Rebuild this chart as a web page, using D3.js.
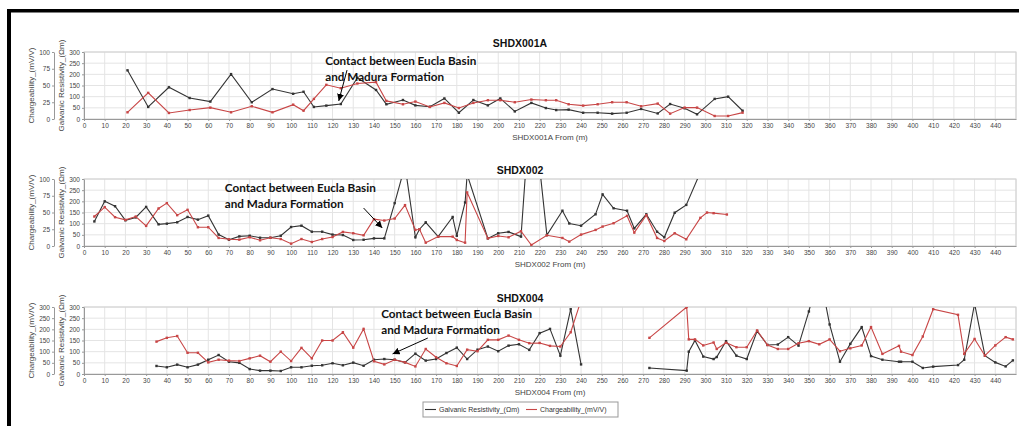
<!DOCTYPE html>
<html><head><meta charset="utf-8">
<script src="https://cdn.jsdelivr.net/npm/d3@7"></script>
<style>body{margin:0;background:#fff} svg{display:block}</style>
</head><body><svg id="c" width="1019" height="426"></svg>
<script>
// ---------------- DATA ----------------
const xTicks = d3.range(0, 441, 10);
const resTicks = [0, 50, 100, 150, 200, 250, 300];
const chgTicksA = [0, 25, 50, 75, 100];
const chgTicksB = [0, 50, 100, 150, 200, 250, 300];
const titles = ["SHDX001A", "SHDX002", "SHDX004"];
const xLabels = ["SHDX001A From (m)", "SHDX002 From (m)", "SHDX004 From (m)"];
const resName = "Galvanic Resistivity_(\u03A9m)";
const chgName = "Chargeability_(mV/V)";
const noteLines = ["Contact between Eucla Basin", "and Madura Formation"];

// SHDX001A
const p1Station = [21,31,41,51,61,71,81,91,101,106,111,117,124,132,141,146,154,160,167,174,181,188,195,201,208,216,223,228,234,241,248,255,262,269,277,283,290,296,304.5,311,318];
const p1Res = [218,54,142,94,78,201,75,134,113,122,54,60,67,185,130,66,85,61,55,92,28,85,61,92,34,72,49,40,42,28,28,24,28,45,25,67,48,21,90,100,37];
const p1Chg = [10,39,9,13.4,17,10,19,10,21.4,12.4,30,51,46,53,55,27,22,26,18,24,16.4,24,28,28,25,29,28,28,22,20,22,25,25,19,23,8,17,17,4.5,4.5,9.5];

// SHDX002
const p2Station = [5,10,15,20,25,30,36,40,45,50,55,60,65,70,75,80,85,90,95,100,105,110,115,120,125,130,135,140,145,150,155,160,162,165,171,178,180,184,185,195,200,205,211,216,223.5,231,234.3,240,247,250.4,255.7,262.2,265.7,271.5,276.7,280.2,285.2,290.8,297.6,300.8,304,310.4];
const p2Res = [110,200,178,115,128,175,97,100,106,130,118,136,51,28,43,46,37,37,46,85,91,64,64,51,49,27,28,34,34,192,360,39,75,106,42,130,46,195,320,34,57,63,42,700,49,158,101,91,142,231,169,158,79,142,64,39,149,184,330,null,null,null];
const p2Chg = [44,58,43,39,44,30,56,64,46,54,28,28,12,10,9.5,13,8.5,12.4,10.4,3.5,10.4,6,10.4,13.4,21,19,16,40,38,41,61,24,25,5,14,14,9,5,80,11.4,15,13,22,1.5,16,12,6.5,17,24,29,34,45,20,46,12,7.5,19,10,42,50,49,47];

// SHDX004
const p3Station = [35,40,45,50,55,60,65,70,75,80,85,90,95,100,105,110,115,120,125,130,135,140,145,150,155,160,165,170,175,180,185,190,195,200,205,210,215,220,225,230,235,240,273,291,292,295,299,304,305.5,310,315,320,325,330,335,340,345,350,355,360,365,370,375.5,380,385.5,393.5,394.5,400,405,410,422,425,430,435,440,445,448.5];
const p3Res = [36,30,42,30,42,64,85,55,50,22,15,15,13.5,30,30,37,39,48,39,51,37,64,67,64,52,91,60,67,94,118,67,109,123,102,127,133,108,183,202,82,290,43,27,15,100,150,78,67,76,147,82,67,192,130,132,165,127,280,460,222,55,135,210,80,64,55,55,55,27,33,40,64,315,82,52,34,61];
const p3Chg = [145,162,170,95,95,52,64,60,58,70,82,55,100,58,117,70,150,150,187,118,202,57,43,64,52,34,112,75,48,36,109,102,153,153,172,153,138,139,126,123,187,330,162,300,155,155,128,141,112,140,120,120,195,130,112,112,138,147,133,155,102,115,128,210,90,126,100,85,168,290,265,90,157,82,128,165,155];

// annotation anchors in data units: [arrow start x, start y(res), tip x, tip y(res), text x]
const noteStartX = [127, 135, 166];
const noteStartY = [219, 170, 161];
const noteTipX = [123, 144, 149];
const noteTipY = [81, 81, 90];
const noteTextX = [116.5, 68, 143.5];

// ---------------- LAYOUT ----------------
const W = 1019, H = 426;
const plotL = 84, plotR = 1016, plotH = 67;
const tops = [52, 179, 307];
const svg = d3.select("#c");
const BLACK = "#333333", RED = "#c84646";
const FONT = "'Liberation Sans', Arial, sans-serif";

// frame (black border top & left)
svg.append("rect").attr("x", 7).attr("y", 9).attr("width", W - 7).attr("height", 3.5).attr("fill", "#000");
svg.append("rect").attr("x", 7).attr("y", 9).attr("width", 4).attr("height", H - 9).attr("fill", "#000");

const x = d3.scaleLinear().domain([0, 450]).range([plotL, plotR]);

const panels = [
  {st: p1Station, res: p1Res, chg: p1Chg, chgMax: 100, chgTicks: chgTicksA},
  {st: p2Station, res: p2Res, chg: p2Chg, chgMax: 100, chgTicks: chgTicksA},
  {st: p3Station, res: p3Res, chg: p3Chg, chgMax: 300, chgTicks: chgTicksB}
];

const defs = svg.append("defs");
defs.append("marker").attr("id", "arr").attr("viewBox", "0 0 10 10")
  .attr("refX", 10).attr("refY", 5).attr("markerWidth", 7).attr("markerHeight", 7)
  .attr("markerUnits", "userSpaceOnUse").attr("orient", "auto")
  .append("path").attr("d", "M0,0 L10,5 L0,10 Z").attr("fill", "#000");

panels.forEach((p, i) => {
  const top = tops[i], bot = top + plotH;
  const yR = d3.scaleLinear().domain([0, 300]).range([bot, top]);
  const yC = d3.scaleLinear().domain([0, p.chgMax]).range([bot, top]);
  const g = svg.append("g");

  defs.append("clipPath").attr("id", "clip" + i).append("rect")
    .attr("x", plotL).attr("y", top).attr("width", plotR - plotL).attr("height", plotH);

  // grid
  g.append("g").selectAll("line").data(xTicks.slice(1).concat([450])).join("line")
    .attr("x1", d => x(d)).attr("x2", d => x(d)).attr("y1", top).attr("y2", bot)
    .attr("stroke", "#e4e4e4").attr("stroke-width", 1);
  g.append("g").selectAll("line").data(resTicks.slice(1)).join("line")
    .attr("x1", plotL).attr("x2", plotR).attr("y1", d => yR(d)).attr("y2", d => yR(d))
    .attr("stroke", "#e4e4e4").attr("stroke-width", 1);
  g.append("rect").attr("x", plotL).attr("y", top).attr("width", plotR - plotL).attr("height", plotH)
    .attr("fill", "none").attr("stroke", "#d0d0d0");

  // x axis
  const xa = g.append("g").attr("transform", `translate(0,${bot})`)
    .call(d3.axisBottom(x).tickValues(xTicks).tickSize(2).tickSizeOuter(0).tickPadding(2));
  xa.select(".domain").attr("stroke", "#999");
  xa.selectAll(".tick line").attr("stroke", "#999");
  xa.selectAll("text").attr("font-size", 6.5).attr("font-family", FONT).attr("fill", "#444");

  // right (resistivity) axis at plotL
  const ra = g.append("g").attr("transform", `translate(${plotL},0)`)
    .call(d3.axisLeft(yR).tickValues(resTicks).tickSize(2).tickSizeOuter(0).tickPadding(2));
  ra.select(".domain").attr("stroke", "#999");
  ra.selectAll(".tick line").attr("stroke", "#999");
  ra.selectAll("text").attr("font-size", 6.5).attr("font-family", FONT).attr("fill", "#444");

  // left (chargeability) axis
  const ca = g.append("g").attr("transform", `translate(54,0)`)
    .call(d3.axisLeft(yC).tickValues(p.chgTicks).tickSize(2).tickSizeOuter(0).tickPadding(2));
  ca.select(".domain").attr("stroke", "#999");
  ca.selectAll(".tick line").attr("stroke", "#999");
  ca.selectAll("text").attr("font-size", 6.5).attr("font-family", FONT).attr("fill", "#444");

  // axis titles
  const cy = (top + bot) / 2;
  g.append("text").attr("transform", `translate(34,${cy}) rotate(-90)`).attr("text-anchor", "middle")
    .attr("font-size", 8).attr("font-family", FONT).attr("fill", "#444").text(chgName);
  g.append("text").attr("transform", `translate(64,${cy}) rotate(-90)`).attr("text-anchor", "middle")
    .attr("font-size", 8).attr("font-family", FONT).attr("fill", "#444").text(resName);

  // title and x label
  g.append("text").attr("x", 520).attr("y", top - 5).attr("text-anchor", "middle")
    .attr("font-size", 10.5).attr("font-weight", "bold").attr("font-family", FONT).attr("fill", "#111")
    .text(titles[i]);
  g.append("text").attr("x", x(225)).attr("y", bot + 21).attr("text-anchor", "middle")
    .attr("font-size", 8).attr("font-family", FONT).attr("fill", "#444").text(xLabels[i]);

  // series
  const rows = p.st.map((s, k) => ({s, r: p.res[k], c: p.chg[k], prev: k > 0 ? p.st[k - 1] : s}));
  const series = [
    {key: "r", y: yR, color: BLACK},
    {key: "c", y: yC, color: RED}
  ];
  const pg = g.append("g").attr("clip-path", `url(#clip${i})`);
  series.forEach(se => {
    const pts = rows.filter(d => d[se.key] != null);
    // split into segments where there's a gap in readings
    const segs = [];
    pts.forEach((d, k) => {
      if (k === 0 || d.s - pts[k - 1].s > 20) segs.push([]);
      segs[segs.length - 1].push(d);
    });
    const line = d3.line().x(d => x(d.s)).y(d => se.y(d[se.key]));
    pg.append("g").selectAll("path").data(segs).join("path")
      .attr("d", line).attr("fill", "none").attr("stroke", se.color).attr("stroke-width", 1.1);
    pg.append("g").selectAll("rect").data(pts).join("rect")
      .attr("x", d => x(d.s) - 1.2).attr("y", d => se.y(d[se.key]) - 1.2)
      .attr("width", 2.4).attr("height", 2.4).attr("fill", se.color);
  });

  // annotation
  const tx = x(noteTextX[i]);
  const t1 = g.append("text").attr("x", tx).attr("y", yR(0) - 0).attr("font-family", "Lato, 'Open Sans', sans-serif")
    .attr("font-weight", "bold").attr("font-size", 12).attr("fill", "#111").text(noteLines[0]);
  const w1 = t1.node().getComputedTextLength();
  const fs = 12 * 151 / w1;
  t1.attr("font-size", fs);
  const lineTop = [65, 192, 318][i];
  t1.attr("y", lineTop);
  g.append("text").attr("x", tx).attr("y", lineTop + 15.5).attr("font-family", "Lato, 'Open Sans', sans-serif")
    .attr("font-weight", "bold").attr("font-size", fs).attr("fill", "#111").text(noteLines[1]);
  g.append("line")
    .attr("x1", x(noteStartX[i])).attr("y1", yR(noteStartY[i]))
    .attr("x2", x(noteTipX[i])).attr("y2", yR(noteTipY[i]))
    .attr("stroke", "#000").attr("stroke-width", 1).attr("marker-end", "url(#arr)");
});

// legend
const lg = svg.append("g");
lg.append("rect").attr("x", 423).attr("y", 402).attr("width", 195).attr("height", 15)
  .attr("fill", "#fff").attr("stroke", "#999");
const legItems = [{name: resName, color: BLACK, x0: 425}, {name: chgName, color: RED, x0: 526}];
legItems.forEach(it => {
  lg.append("line").attr("x1", it.x0).attr("x2", it.x0 + 11).attr("y1", 409.5).attr("y2", 409.5)
    .attr("stroke", it.color).attr("stroke-width", 1.1);
  lg.append("text").attr("x", it.x0 + 14).attr("y", 412).attr("font-size", 7).attr("font-family", FONT)
    .attr("fill", "#333").text(it.name);
});
</script></body></html>
